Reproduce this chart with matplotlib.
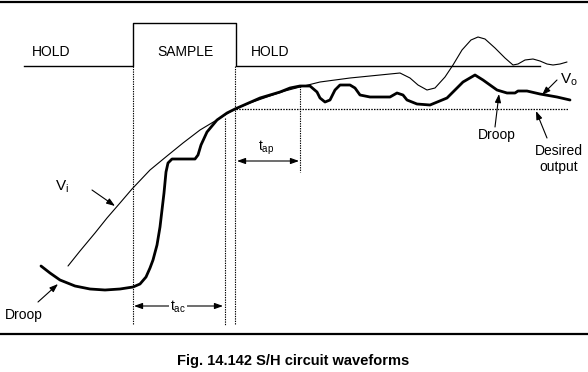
import matplotlib
matplotlib.use("Agg")
import matplotlib.pyplot as plt

plt.rcParams['font.family'] = ['Liberation Sans', 'DejaVu Sans']

# control signal (HOLD / SAMPLE / HOLD), pixel coordinates
ctrl_x = [24, 133, 133, 236, 236, 540]
ctrl_y = [66, 66, 23, 23, 66, 66]

# input Vi (thin)
vi_x = [68, 80, 95, 107, 120, 132, 150, 167, 183, 200, 220, 235, 250, 267, 285, 300,
        320, 350, 380, 400, 410, 418, 427, 435, 445, 453, 462, 471, 478, 485, 495,
        505, 513, 518, 525, 533, 540, 547, 553, 560, 567]
vi_y = [266, 251, 233, 218, 203, 189, 170, 156, 143, 130, 118, 109, 103, 97, 91, 87,
        82, 78, 75, 73, 78, 85, 90, 88, 77, 65, 50, 40, 37, 39, 48,
        58, 65, 64, 60, 59, 61, 64, 65, 64, 62]

# output Vo (thick)
vo_x = [41, 50, 60, 75, 90, 105, 120, 133, 140, 146, 150, 153, 157, 160, 162, 164,
        166, 168, 172, 185, 195, 198, 201, 207, 217, 227, 235, 260, 280, 290, 300,
        310, 317, 320, 325, 330, 335, 340, 350, 355, 360, 370, 390, 397, 403, 407,
        417, 430, 447, 463, 475, 483, 497, 507, 515, 518, 527, 540, 557, 570]
vo_y = [266, 273, 280, 286, 289, 290, 289, 287, 284, 277, 268, 260, 245, 227, 210, 193,
        172, 163, 159, 159, 159, 155, 145, 132, 120, 113, 109, 98, 92, 88, 86,
        86, 92, 98, 102, 100, 90, 85, 85, 88, 95, 97, 97, 93, 95, 100,
        104, 105, 98, 82, 75, 80, 90, 93, 93, 91, 91, 94, 97, 100]

fig = plt.figure(figsize=(5.88, 3.72), dpi=100)
ax = fig.add_axes([0, 0, 1, 1])
ax.set_xlim(0, 588)
ax.set_ylim(372, 0)
ax.axis('off')

# frame lines
ax.plot([0, 588], [2, 2], color='black', lw=1.6)
ax.plot([0, 588], [334, 334], color='black', lw=1.6)

ax.plot(ctrl_x, ctrl_y, color='black', lw=1.0)

dot = (0, (1.2, 1.0))
ax.plot([133, 133], [66, 325], color='black', lw=0.8, ls=dot)
ax.plot([225, 225], [118, 325], color='black', lw=0.8, ls=dot)
ax.plot([235, 235], [66, 325], color='black', lw=0.8, ls=dot)
ax.plot([300, 300], [86, 172], color='black', lw=0.8, ls=dot)
ax.plot([236, 568], [109, 109], color='black', lw=0.9, ls=dot)

ax.plot(vi_x, vi_y, color='black', lw=0.8, solid_capstyle='round')
ax.plot(vo_x, vo_y, color='black', lw=2.0, solid_joinstyle='round', solid_capstyle='round')

fs = 10
ax.text(51, 52, "HOLD", fontsize=fs, ha='center', va='center')
ax.text(185, 52, "SAMPLE", fontsize=fs, ha='center', va='center')
ax.text(270, 52, "HOLD", fontsize=fs, ha='center', va='center')

arr = dict(arrowstyle='-|>,head_length=0.5,head_width=0.18', color='black', lw=0.8,
           shrinkA=0, shrinkB=0)
darr = dict(arrowstyle='<|-|>,head_length=0.5,head_width=0.18', color='black', lw=0.8,
            shrinkA=0, shrinkB=0)

# t_ac and t_ap
ax.annotate("", xy=(134, 306), xytext=(223, 306), arrowprops=darr)
ax.text(178, 307, r"$\mathregular{t_{ac}}$", fontsize=fs, ha='center', va='center',
        bbox=dict(facecolor='white', edgecolor='none', pad=0.5))
ax.annotate("", xy=(237, 161), xytext=(299, 161), arrowprops=darr)
ax.text(266, 148, r"$\mathregular{t_{ap}}$", fontsize=fs, ha='center', va='center')

# labels with pointers
ax.text(62, 187, r"$\mathregular{V_i}$", fontsize=fs + 1, ha='center', va='center')
ax.annotate("", xy=(115, 206), xytext=(92, 190), arrowprops=arr)

ax.text(24, 315, "Droop", fontsize=fs, ha='center', va='center')
ax.annotate("", xy=(58, 284), xytext=(38, 302), arrowprops=arr)

ax.text(569, 80, r"$\mathregular{V_o}$", fontsize=fs + 1, ha='center', va='center')
ax.annotate("", xy=(542, 95), xytext=(557, 80), arrowprops=arr)

ax.text(497, 135, "Droop", fontsize=fs, ha='center', va='center')
ax.annotate("", xy=(499, 94), xytext=(495, 127), arrowprops=arr)

ax.text(559, 159, "Desired\noutput", fontsize=fs, ha='center', va='center', linespacing=1.1)
ax.annotate("", xy=(536, 111), xytext=(547, 138), arrowprops=arr)

ax.text(293, 361, "Fig. 14.142 S/H circuit waveforms", fontsize=10.5, fontweight='bold',
        ha='center', va='center')

fig.savefig("out.png", dpi=100)
